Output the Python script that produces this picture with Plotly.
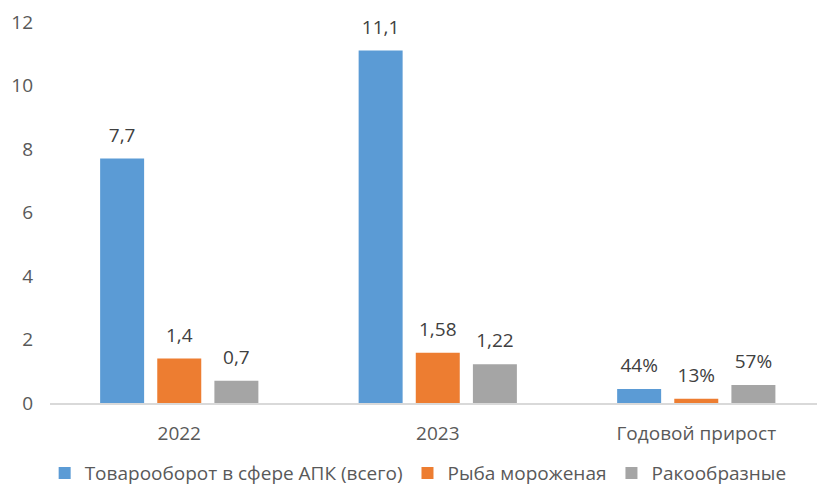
import plotly.graph_objects as go

categories = ["2022", "2023", "Годовой прирост"]
series_names = ["Товарооборот в сфере АПК (всего)", "Рыба мороженая", "Ракообразные"]
total_vals = [7.7, 11.1, 0.44]
fish_vals = [1.4, 1.58, 0.13]
crust_vals = [0.7, 1.22, 0.57]
is_percent = [False, False, True]
y_ticks = [0, 2, 4, 6, 8, 10, 12]

colors = ["#5B9BD5", "#ED7D31", "#A5A5A5"]
FONT = "Open Sans"
TXT = "#595959"
GAP = 0.337


def labels(vals):
    out = []
    for v, p in zip(vals, is_percent):
        if p:
            out.append(f"{round(v * 100)}%")
        else:
            out.append(f"{v:g}".replace(".", ","))
    return out


all_vals = [total_vals, fish_vals, crust_vals]
fig = go.Figure()
for name, vals, c in zip(series_names, all_vals, colors):
    fig.add_trace(go.Bar(
        x=categories, y=vals, name=name, marker=dict(color=c, line=dict(width=0)),
        hoverinfo="skip",
    ))
for name, vals in zip(series_names, all_vals):
    fig.add_trace(go.Scatter(
        x=categories, y=vals, mode="markers+text", text=labels(vals),
        textposition="top center", showlegend=False, hoverinfo="skip",
        marker=dict(size=18, opacity=0), cliponaxis=False,
        textfont=dict(family=FONT, size=19, color="#404040"),
    ))

fig.update_layout(
    width=817, height=486,
    margin=dict(l=50, r=0, t=22, b=83, autoexpand=False),
    paper_bgcolor="white", plot_bgcolor="white",
    barmode="group", bargap=GAP, bargroupgap=0.23,
    scattermode="group", scattergap=GAP,
    font=dict(family=FONT, size=19, color=TXT),
    showlegend=True,
    legend=dict(orientation="h", x=0.48, xanchor="center", y=-0.184, yanchor="middle",
                font=dict(family=FONT, size=19, color=TXT), itemwidth=30,
                traceorder="normal"),
    xaxis=dict(type="category", range=[-0.5, 2.467], showline=True, linecolor="#D9D9D9",
               linewidth=1.5, showgrid=False, ticks="", ticklabelstandoff=12,
               tickfont=dict(family=FONT, size=19, color=TXT)),
    yaxis=dict(range=[0, 12], tickvals=y_ticks, showgrid=False, zeroline=False,
               showline=False, ticks="", ticklabelstandoff=16,
               tickfont=dict(family=FONT, size=19, color=TXT)),
)

fig.write_html("out.html")
